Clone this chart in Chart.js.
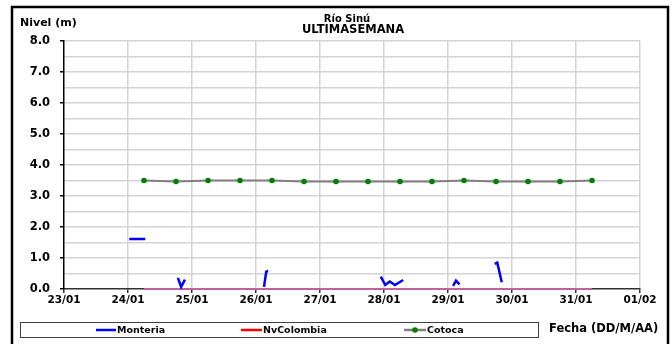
<!DOCTYPE html>
<html>
<head>
<meta charset="utf-8">
<script src="https://cdn.jsdelivr.net/npm/chart.js@4.4.1/dist/chart.umd.min.js"></script>
<style>
  html, body { margin: 0; padding: 0; background: #fff; }
  #wrap { width: 672px; height: 344px; }
</style>
</head>
<body>
<div id="wrap"><canvas id="nivelChart" width="672" height="344"></canvas></div>
<script>
// x is days counted from 23/01 00:00
const xTickLabels = ['23/01', '24/01', '25/01', '26/01', '27/01', '28/01', '29/01', '30/01', '31/01', '01/02'];

// Monteria: short pieces, null = gap
const monteriaT = [1.02, 1.27, null, 1.78, 1.83, 1.89, null, 3.125, 3.16, 3.19, null,
  4.95, 5.02, 5.09, 5.17, 5.30, null, 6.08, 6.125, 6.18, null, 6.73, 6.77, 6.84];
const monteriaNivel = [1.61, 1.61, null, 0.36, 0.07, 0.30, null, 0.07, 0.56, 0.58, null,
  0.40, 0.13, 0.24, 0.13, 0.29, null, 0.10, 0.27, 0.15, null, 0.81, 0.85, 0.22];

const cotocaT = [1.25, 1.75, 2.25, 2.75, 3.25, 3.75, 4.25, 4.75, 5.25, 5.75, 6.25, 6.75, 7.25, 7.75, 8.25];
const cotocaNivel = [3.50, 3.47, 3.50, 3.50, 3.50, 3.47, 3.47, 3.47, 3.47, 3.47, 3.50, 3.47, 3.47, 3.47, 3.50];

const nvColombiaT = [1.25, 1.75, 2.25, 2.75, 3.25, 3.75, 4.25, 4.75, 5.25, 5.75, 6.25, 6.75, 7.25, 7.75, 8.25];
const nvColombiaNivel = [0, 0, 0, 0, 0, 0, 0, 0, 0, 0, 0, 0, 0, 0, 0];

function pts(t, v) {
  return t.map((x, i) => ({ x: x === null ? NaN : x, y: v[i] }));
}

const FONT = 'DejaVu Sans';

const frameAndLegend = {
  id: 'frameAndLegend',
  afterDraw(chart) {
    const c = chart.ctx;
    c.save();
    // outer frame
    c.strokeStyle = '#000';
    c.lineWidth = 2.5;
    c.strokeRect(12, 7, 656, 345);

    c.fillStyle = '#000';
    c.textBaseline = 'middle';
    c.font = `bold 11px ${FONT}`;
    c.textAlign = 'left';
    c.fillText('Nivel (m)', 20, 23);

    c.textAlign = 'center';
    c.font = `bold 10px ${FONT}`;
    c.fillText('Río Sinú', 347, 19);
    c.font = `bold 11.5px ${FONT}`;
    c.fillText('ULTIMASEMANA', 353, 30);

    // legend box
    c.strokeStyle = '#404040';
    c.lineWidth = 1;
    c.strokeRect(20.5, 322.5, 518, 15);

    const items = [
      { label: 'Monteria', color: '#0000ff', x0: 96, x1: 116 },
      { label: 'NvColombia', color: '#ff0000', x0: 241, x1: 262 },
      { label: 'Cotoca', color: '#808080', x0: 404, x1: 426, marker: '#008000' }
    ];
    c.font = `bold 9.5px ${FONT}`;
    c.textAlign = 'left';
    items.forEach(it => {
      c.strokeStyle = it.color;
      c.lineWidth = 2.5;
      c.beginPath();
      c.moveTo(it.x0, 330);
      c.lineTo(it.x1, 330);
      c.stroke();
      if (it.marker) {
        c.fillStyle = it.marker;
        c.beginPath();
        c.arc((it.x0 + it.x1) / 2, 330, 2.8, 0, Math.PI * 2);
        c.fill();
      }
      c.fillStyle = '#000';
      c.fillText(it.label, it.x1 + 1, 330.5);
    });

    c.font = `bold 11.5px ${FONT}`;
    c.fillText('Fecha (DD/M/AA)', 549, 329.5);
    c.restore();
  }
};

new Chart(document.getElementById('nivelChart'), {
  type: 'line',
  data: {
    datasets: [
      { label: 'Monteria', data: pts(monteriaT, monteriaNivel), borderColor: '#0000ff',
        borderWidth: 2.5, pointRadius: 0, spanGaps: false, clip: false },
      { label: 'NvColombia', data: pts(nvColombiaT, nvColombiaNivel), borderColor: '#c0609e',
        borderWidth: 2, pointRadius: 0, clip: false },
      { label: 'Cotoca', data: pts(cotocaT, cotocaNivel), borderColor: '#808080', borderWidth: 2,
        pointRadius: 2.8, pointBackgroundColor: '#008000', pointBorderColor: '#008000',
        pointBorderWidth: 0, clip: false }
    ]
  },
  options: {
    responsive: false,
    animation: false,
    layout: { padding: { left: 0, top: 41, right: 32, bottom: 35 } },
    plugins: { legend: { display: false }, tooltip: { enabled: false } },
    scales: {
      x: {
        type: 'linear', min: 0, max: 9,
        afterFit(s) { s.height = 20; },
        border: { color: '#303030', width: 1.5 },
        grid: {
          color: ctx => ctx.tick && ctx.tick.value === 0 ? 'rgba(0,0,0,0)' : '#d4d4d4',
          lineWidth: 1.5, tickLength: 4, tickColor: '#303030'
        },
        ticks: {
          stepSize: 1, autoSkip: false, maxRotation: 0, padding: 1, color: '#000',
          font: { family: FONT, size: 10.5, weight: 'bold' },
          callback: v => xTickLabels[v]
        }
      },
      y: {
        min: 0, max: 8,
        afterFit(s) { s.width = 64; },
        border: { color: '#000', width: 1.5 },
        grid: {
          color: ctx => ctx.tick && ctx.tick.value === 0 ? 'rgba(0,0,0,0)' : '#d4d4d4',
          lineWidth: 1.5, tickLength: 4,
          tickColor: ctx => ctx.tick && Number.isInteger(ctx.tick.value) ? '#000' : 'rgba(0,0,0,0)'
        },
        ticks: {
          stepSize: 0.5, autoSkip: false, padding: 10, color: '#000',
          font: { family: FONT, size: 11.5, weight: 'bold' },
          callback: v => Number.isInteger(v) ? v.toFixed(1) : ''
        }
      }
    }
  },
  plugins: [frameAndLegend]
});
</script>
</body>
</html>
